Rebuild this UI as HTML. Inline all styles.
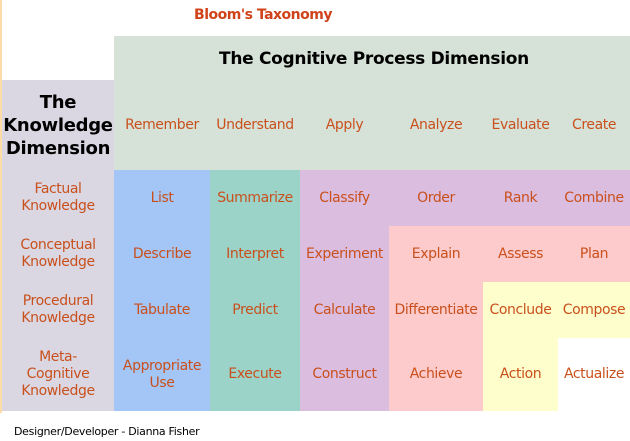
<!DOCTYPE html>
<html><head><style>
body{margin:0;width:630px;height:441px;position:relative;background:#fff;font-family:"DejaVu Sans","Liberation Sans",sans-serif;overflow:hidden}
.a{position:absolute;display:flex;align-items:center;justify-content:center;text-align:center;color:#c9501c;font-size:14px;line-height:17px;letter-spacing:-0.4px;white-space:nowrap}
.b{position:absolute}
</style></head><body>
<div class="b" style="left:0;top:0;width:2px;height:413px;background:#fddca8"></div>
<div class="a" style="left:183px;top:4px;width:160px;height:22px;font-weight:bold;font-size:14px;color:#d0431a;letter-spacing:-0.5px">Bloom's Taxonomy</div>
<div class="b" style="left:114px;top:36px;width:516px;height:134px;background:#d6e2d8"></div>
<div class="a" style="left:114px;top:44px;width:520px;height:30px;color:#000;font-size:17px;font-weight:bold;letter-spacing:-0.3px">The Cognitive Process Dimension</div>
<div class="b" style="left:2px;top:80px;width:112px;height:331px;background:#dad7e2"></div>
<div class="a" style="left:2px;top:90px;width:112px;height:70px;color:#000;font-size:18px;font-weight:bold;line-height:23px;letter-spacing:-0.3px">The<br>Knowledge<br>Dimension</div>
<div class="b" style="left:114px;top:170px;width:96px;height:241px;background:#a4c6f6"></div>
<div class="b" style="left:210px;top:170px;width:90px;height:241px;background:#9bd3c8"></div>
<div class="b" style="left:300px;top:170px;width:330px;height:241px;background:#dbbde0"></div>
<div class="b" style="left:389px;top:226px;width:241px;height:185px;background:#fdcbcb"></div>
<div class="b" style="left:483px;top:282px;width:147px;height:129px;background:#fefecd"></div>
<div class="b" style="left:558px;top:338px;width:72px;height:73px;background:#fff"></div>

<div class="a" style="left:114px;top:110px;width:96px;height:30px">Remember</div>
<div class="a" style="left:210px;top:110px;width:90px;height:30px">Understand</div>
<div class="a" style="left:300px;top:110px;width:89px;height:30px">Apply</div>
<div class="a" style="left:389px;top:110px;width:94px;height:30px">Analyze</div>
<div class="a" style="left:483px;top:110px;width:75px;height:30px">Evaluate</div>
<div class="a" style="left:558px;top:110px;width:72px;height:30px">Create</div>

<div class="a" style="left:2px;top:170px;width:112px;height:56px">Factual<br>Knowledge</div>
<div class="a" style="left:2px;top:226px;width:112px;height:56px">Conceptual<br>Knowledge</div>
<div class="a" style="left:2px;top:282px;width:112px;height:56px">Procedural<br>Knowledge</div>
<div class="a" style="left:2px;top:338px;width:112px;height:73px">Meta-<br>Cognitive<br>Knowledge</div>

<div class="a" style="left:114px;top:170px;width:96px;height:56px">List</div>
<div class="a" style="left:210px;top:170px;width:90px;height:56px">Summarize</div>
<div class="a" style="left:300px;top:170px;width:89px;height:56px">Classify</div>
<div class="a" style="left:389px;top:170px;width:94px;height:56px">Order</div>
<div class="a" style="left:483px;top:170px;width:75px;height:56px">Rank</div>
<div class="a" style="left:558px;top:170px;width:72px;height:56px">Combine</div>

<div class="a" style="left:114px;top:226px;width:96px;height:56px">Describe</div>
<div class="a" style="left:210px;top:226px;width:90px;height:56px">Interpret</div>
<div class="a" style="left:300px;top:226px;width:89px;height:56px">Experiment</div>
<div class="a" style="left:389px;top:226px;width:94px;height:56px">Explain</div>
<div class="a" style="left:483px;top:226px;width:75px;height:56px">Assess</div>
<div class="a" style="left:558px;top:226px;width:72px;height:56px">Plan</div>

<div class="a" style="left:114px;top:282px;width:96px;height:56px">Tabulate</div>
<div class="a" style="left:210px;top:282px;width:90px;height:56px">Predict</div>
<div class="a" style="left:300px;top:282px;width:89px;height:56px">Calculate</div>
<div class="a" style="left:389px;top:282px;width:94px;height:56px">Differentiate</div>
<div class="a" style="left:483px;top:282px;width:75px;height:56px">Conclude</div>
<div class="a" style="left:558px;top:282px;width:72px;height:56px">Compose</div>

<div class="a" style="left:114px;top:338px;width:96px;height:73px">Appropriate<br>Use</div>
<div class="a" style="left:210px;top:338px;width:90px;height:73px">Execute</div>
<div class="a" style="left:300px;top:338px;width:89px;height:73px">Construct</div>
<div class="a" style="left:389px;top:338px;width:94px;height:73px">Achieve</div>
<div class="a" style="left:483px;top:338px;width:75px;height:73px">Action</div>
<div class="a" style="left:558px;top:338px;width:72px;height:73px">Actualize</div>

<div class="a" style="left:14px;top:422px;height:18px;color:#000;font-size:11px;letter-spacing:-0.3px;justify-content:flex-start">Designer/Developer - Dianna Fisher</div>
</body></html>
